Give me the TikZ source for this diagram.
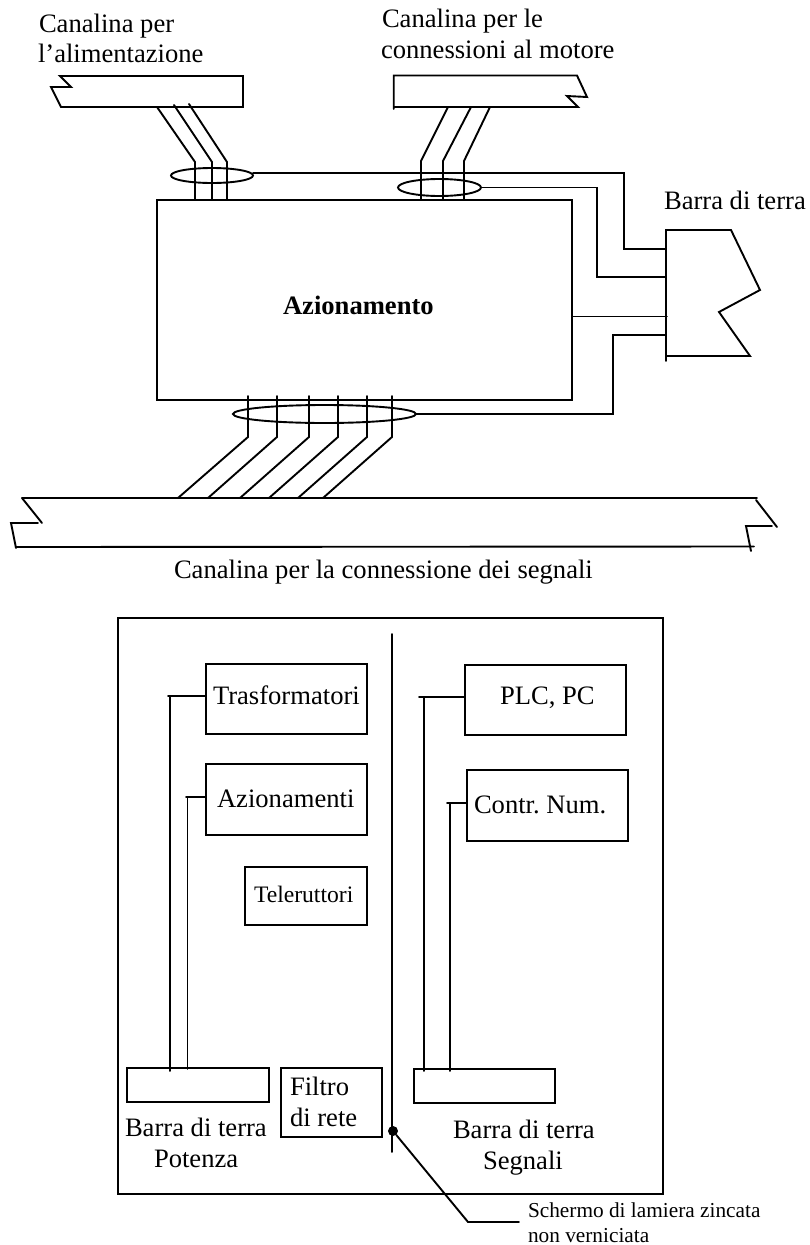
\documentclass[tikz,border=0pt]{standalone}
\usepackage{fontspec}
\setmainfont{Liberation Serif}
\usetikzlibrary{shapes.geometric}
\tikzset{
  ln/.style={line width=1.9pt,line cap=round,line join=miter,black},
  boxn/.style={draw,ln,rectangle,inner sep=0pt,outer sep=0pt,minimum width=#1},
  ring/.style={draw,ln,ellipse,inner sep=0pt,outer sep=0pt},
  txt/.style={anchor=base west,inner sep=0pt,outer sep=0pt,black,font=\fontsize{26.6}{31}\selectfont},
  txtm/.style={txt,font=\fontsize{23.6}{28}\selectfont},
  txts/.style={txt,font=\fontsize{21.3}{26}\selectfont},
  txtb/.style={txt,font=\fontsize{26.6}{31}\selectfont\bfseries}
}
\begin{document}
\frenchspacing
\begin{tikzpicture}[x=1pt,y=-1pt]
\useasboundingbox (0,0) rectangle (809,1245);
% --- upper figure: boxes and rings
\node[boxn=415pt,minimum height=200pt] (az) at (364.5,300) {};
\node[txtb] (azt) at (283,314) {Azionamento};
\node[ring,minimum width=82pt,minimum height=15pt] (r1) at (212,175.5) {};
\node[ring,minimum width=83pt,minimum height=17pt] (r2) at (439.5,187.5) {};
\node[ring,minimum width=183pt,minimum height=18pt] (r3) at (324.5,414) {};
% trunks
\coordinate (tlA) at (60,76);
\coordinate (tlB) at (243,76);
\coordinate (tlC) at (243,107);
\coordinate (tlD) at (61,107);
\draw[ln] (tlA) -- (71,87) -- (51,87) -- (tlD) -- (tlC) -- (tlB) -- cycle;
\coordinate (trA) at (393.7,75.5);
\coordinate (trB) at (577,75.5);
\coordinate (trC) at (578,107);
\draw[ln] (393.7,109) -- (trA) -- (trB) -- (587,97) -- (567,96) -- (trC) -- (393.7,107);
\coordinate (bA) at (22,498);
\coordinate (bB) at (757,498);
\draw[ln] (bA) -- (bB);
\draw[ln] (756,500) -- (777,527);
\draw[ln] (772,526) -- (746,526) -- (751,551);
\draw[ln] (bA) -- (42,523);
\draw[ln] (38,523) -- (11,523) -- (16,548);
\draw[ln] (16,547) -- (754,546.5);
% wires top-left
\foreach \i/\xa/\ya/\xb in {1/157/107/195,2/174/105/212,3/189/104/227}{
  \coordinate (wa\i) at (\xb,162);
  \draw[ln] (\xa,\ya) -- (wa\i) -- (az.north -| wa\i);
}
% wires top-right
\foreach \i/\xa/\xb in {1/448/421,2/471/443,3/490/464}{
  \coordinate (wb\i) at (\xb,161);
  \draw[ln] (\xa,107) -- (wb\i) -- (az.north -| wb\i);
}
% wires bottom
\foreach \i/\xa/\xb in {1/178/248,2/208/277,3/240/309,4/269/338,5/298/367,6/323/392}{
  \coordinate (wc\i) at (\xb,437);
  \coordinate (wd\i) at (\xb,396);
  \draw[ln] (\xa,498) -- (wc\i) -- (wd\i);
}
% ground bar
\coordinate (gA) at (666,230);
\coordinate (gB) at (731,230);
\coordinate (gE) at (750,356);
\coordinate (gF) at (666,356);
\draw[ln] (666,361) -- (gA) -- (gB) -- (760,290) -- (719,312) -- (gE) -- (gF);
% ground wires
\coordinate (e0) at (253,173);
\coordinate (e1) at (624,173);
\coordinate (e1b) at (624,249);
\draw[ln] (e0) -- (e1) -- (e1b) -- (666,249);
\coordinate (e2) at (597,187.5);
\coordinate (e2b) at (597,277);
\draw[ln] (r2.east) -- (e2) -- (e2b) -- (666,277);
\coordinate (e4) at (667,316.5);
\draw[ln] (az.east |- e4) -- (e4);
\coordinate (e3) at (613,414);
\coordinate (e3b) at (613,335);
\draw[ln] (r3.east) -- (e3) -- (e3b) -- (666,335);
% labels upper
\node[txt] (l1) at (39,32) {Canalina per};
\node[txt] (l2) at (38,62) {l’alimentazione};
\node[txt] (l3) at (382,27) {Canalina per le};
\node[txt] (l4) at (381,58) {connessioni al motore};
\node[txt] (l5) at (664,209) {Barra di terra};
\node[txt] (l6) at (174,578) {Canalina per la connessione dei segnali};
% --- lower figure
\node[boxn=545pt,minimum height=576pt] (outer) at (390.5,906) {};
\node[boxn=161pt,minimum height=70pt] (trasf) at (286.5,699) {};
\node[boxn=161pt,minimum height=71pt] (azn) at (286.5,799.5) {};
\node[boxn=122pt,minimum height=58pt] (tele) at (306,896) {};
\node[boxn=161pt,minimum height=70pt] (plc) at (545.5,700) {};
\node[boxn=161pt,minimum height=71pt] (cnum) at (547.5,805.5) {};
\node[boxn=142pt,minimum height=34pt] (barP) at (198,1085) {};
\node[boxn=101pt,minimum height=69pt] (filt) at (331.5,1102.5) {};
\node[boxn=141pt,minimum height=34pt] (barS) at (484.5,1086) {};
\node[txt] (n1) at (213,704) {Trasformatori};
\node[txt] (n2) at (217,807) {Azionamenti};
\node[txtm] (n3) at (254,902) {Teleruttori};
\node[txt] (n4) at (500,704) {PLC, PC};
\node[txt] (n5) at (474,813) {Contr. Num.};
\node[txt] (n6) at (290,1095) {Filtro};
\node[txt] (n7) at (290,1126) {di rete};
\node[txt] (n8) at (125,1136) {Barra di terra};
\node[txt] (n9) at (154,1167) {Potenza};
\node[txt] (n10) at (453,1138) {Barra di terra};
\node[txt] (n11) at (483,1169) {Segnali};
\node[txts] (n12) at (528,1217) {Schermo di lamiera zincata};
\node[txts] (n13) at (528,1242) {non verniciata};
% wires lower
\coordinate (c1) at (170,696);
\draw[ln] (trasf.west |- c1) -- (168,696);
\draw[ln] (c1) -- ([yshift=-3pt]barP.north -| c1);
\coordinate (c2) at (187.5,797);
\draw[ln] (azn.west |- c2) -- (186,797);
\draw[ln] (c2) -- ([yshift=-1pt]barP.north -| c2);
\coordinate (c3) at (424,697);
\draw[ln] (plc.west |- c3) -- (419,697);
\draw[ln] (c3) -- ([yshift=-2pt]barS.north -| c3);
\coordinate (c4) at (450,803);
\draw[ln] (cnum.west |- c4) -- (447,803);
\draw[ln] (c4) -- ([yshift=-2pt]barS.north -| c4);
% screen
\coordinate (sT) at (392,634);
\coordinate (sB) at (392,1152);
\draw[ln] (sT) -- (sB);
\node[circle,fill=black,inner sep=0pt,minimum size=10pt] (dot) at (393,1131) {};
\coordinate (k) at (468,1222);
\coordinate (kE) at (519,1222);
\draw[ln] (dot) -- (k) -- (kE);
\end{tikzpicture}
\end{document}
